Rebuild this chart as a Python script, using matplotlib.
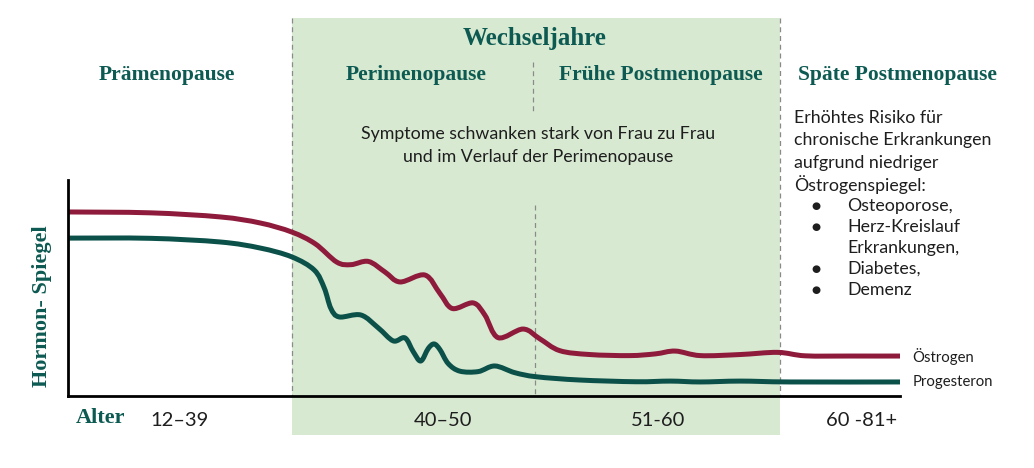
import matplotlib.pyplot as plt
from matplotlib.patches import Rectangle, PathPatch
from matplotlib.path import Path

# timeline position (0-100 across the axis) and hormone level (0-100)
oe_x = [0, 9.9, 18.3, 23.1, 26.9, 29.7, 32.3, 34.0, 36.1, 38.1, 39.9, 42.9, 44.7, 46.2,
        48.7, 50.1, 51.7, 54.7, 56.7, 59.1, 62.7, 67.5, 70.6, 73.0, 76.0, 80.8, 85.3,
        88.6, 94.0, 100]
oe_y = [85.2, 84.8, 82.9, 80.1, 75.9, 70.5, 62.0, 60.8, 62.3, 57.4, 52.8, 56.0, 47.5, 40.5,
        43.1, 37.5, 27.0, 31.0, 26.5, 21.0, 19.2, 18.7, 19.5, 20.8, 18.7, 19.2, 20.2,
        18.6, 18.5, 18.5]

pg_x = [0, 9.9, 18.3, 23.1, 26.9, 29.6, 30.8, 31.6, 32.6, 35.2, 37.3, 39.1, 40.5, 41.5,
        42.4, 43.3, 44.0, 44.7, 45.7, 47.1, 49.3, 51.3, 53.7, 56.3, 61.5, 68.3, 72.4,
        76.0, 80.8, 86.8, 100]
pg_y = [73.1, 73.0, 71.3, 68.5, 64.4, 58.3, 50.0, 40.5, 36.6, 37.5, 31.5, 25.5, 26.9, 20.5,
        16.2, 22.0, 24.1, 21.5, 15.0, 11.5, 11.3, 13.9, 10.8, 8.9, 7.4, 6.6, 6.9,
        6.5, 6.9, 6.5, 6.5]

phases = ["Prämenopause", "Perimenopause", "Frühe Postmenopause", "Späte Postmenopause"]
ages = ["12–39", "40–50", "51-60", "60 -81+"]
intro = ["Erhöhtes Risiko für", "chronische Erkrankungen", "aufgrund niedriger",
         "Östrogenspiegel:"]
risks = ["Osteoporose,", "Herz-Kreislauf\nErkrankungen,", "Diabetes,", "Demenz"]

RED = "#8e1b3b"
GREEN = "#0b5149"
HEAD = "#0d5a52"
SHADE = "#d8e9d2"
TXT = "#1e1e1e"
serif = "Liberation Serif"
sans = ["Lato", "DejaVu Sans"]


def smooth_path(xs, ys):
    # Catmull-Rom style bezier through the read points
    n = len(xs)
    verts = [(xs[0], ys[0])]
    codes = [Path.MOVETO]
    for i in range(n - 1):
        x0, y0 = (xs[i - 1], ys[i - 1]) if i > 0 else (xs[i], ys[i])
        x3, y3 = (xs[i + 2], ys[i + 2]) if i + 2 < n else (xs[i + 1], ys[i + 1])
        c1 = (xs[i] + (xs[i + 1] - x0) / 6, ys[i] + (ys[i + 1] - y0) / 6)
        c2 = (xs[i + 1] - (x3 - xs[i]) / 6, ys[i + 1] - (y3 - ys[i]) / 6)
        verts += [c1, c2, (xs[i + 1], ys[i + 1])]
        codes += [Path.CURVE4] * 3
    return Path(verts, codes)


W, H = 1034, 468
fig = plt.figure(figsize=(W / 100, H / 100), dpi=100)

# layout layer in pixel units
bg = fig.add_axes([0, 0, 1, 1])
bg.set_xlim(0, W)
bg.set_ylim(H, 0)
bg.axis("off")
bg.add_patch(Rectangle((292, 18), 488, 417, color=SHADE, lw=0))
for xv in (292, 780):
    bg.plot([xv, xv], [18, 396], ls=(0, (4, 3)), color="#8a8a8a", lw=0.9)
bg.plot([535, 535], [205, 396], ls=(0, (4, 3)), color="#8a8a8a", lw=0.9)
bg.plot([533, 533], [62, 113], ls=(0, (4, 3)), color="#8a8a8a", lw=0.9)

bg.text(535, 38, "Wechseljahre", ha="center", va="center", family=serif,
        weight="bold", fontsize=18, color=HEAD)
for cx, lab in zip([167, 416, 661, 897], phases):
    bg.text(cx, 75, lab, ha="center", va="center", family=serif, weight="bold",
            fontsize=15.5, color=HEAD)

bg.text(538, 134, "Symptome schwanken stark von Frau zu Frau", ha="center", va="center",
        family=sans, fontsize=12.8, color=TXT)
bg.text(538, 157, "und im Verlauf der Perimenopause", ha="center", va="center",
        family=sans, fontsize=12.8, color=TXT)

for i, line in enumerate(intro):
    bg.text(794, 118 + 22.3 * i, line, ha="left", va="center", family=sans,
            fontsize=12.8, color=TXT)
by = 206
for item in risks:
    bg.text(816, by, "●", ha="center", va="center", family=["DejaVu Sans"], fontsize=7.5,
            color=TXT)
    for line in item.split("\n"):
        bg.text(847, by, line, ha="left", va="center", family=sans, fontsize=12.8, color=TXT)
        by += 21

bg.text(42, 306, "Hormon- Spiegel", rotation=90, ha="center", va="center", family=serif,
        weight="bold", fontsize=16, color=HEAD)
bg.text(101, 418, "Alter", ha="center", va="center", family=serif, weight="bold",
        fontsize=16, color=HEAD)
for cx, lab in zip([179, 443, 658, 862], ages):
    bg.text(cx, 421, lab, ha="center", va="center", family=sans, fontsize=14.5, color=TXT)

# chart layer
ax = fig.add_axes([68 / W, (H - 396) / H, (900 - 68) / W, (396 - 180) / H])
ax.patch.set_alpha(0)
for xs, ys, col in [(pg_x, pg_y, GREEN), (oe_x, oe_y, RED)]:
    ax.add_patch(PathPatch(smooth_path(xs, ys), fill=False, edgecolor=col, lw=3.6,
                           capstyle="round", joinstyle="round"))
ax.set_xlim(0, 100)
ax.set_ylim(0, 100)
ax.spines[["top", "right"]].set_visible(False)
ax.spines["left"].set_linewidth(2)
ax.spines["bottom"].set_linewidth(2)
ax.set_xticks([])
ax.set_yticks([])
ax.text(101.5, oe_y[-1], "Östrogen", ha="left", va="center", family=sans, fontsize=10.7, color=TXT)
ax.text(101.5, pg_y[-1], "Progesteron", ha="left", va="center", family=sans, fontsize=10.7, color=TXT)

fig.savefig("out.png", dpi=100)
